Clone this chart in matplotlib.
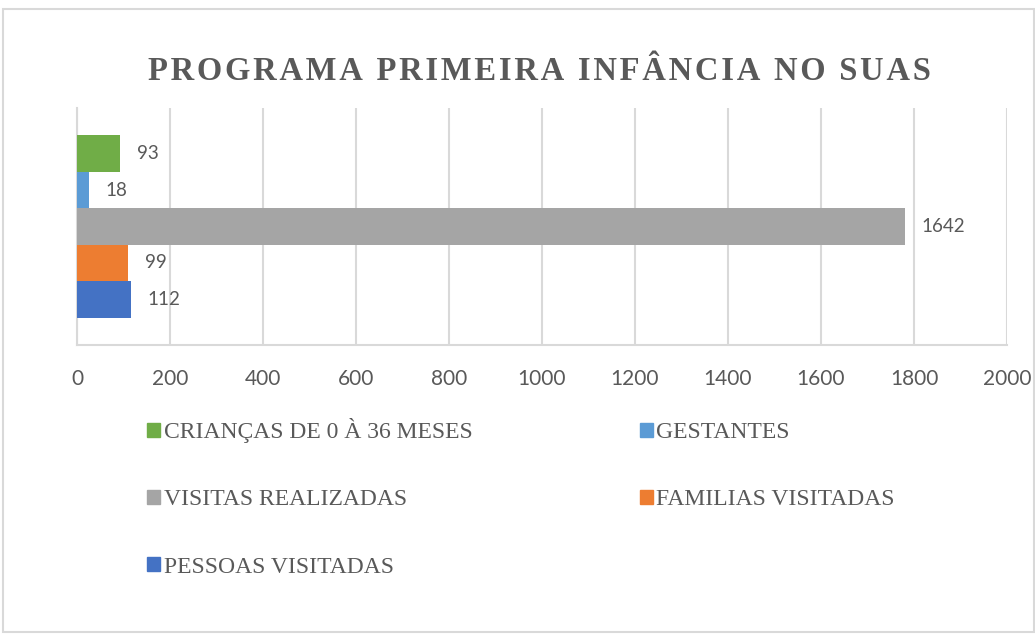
import matplotlib
matplotlib.use("Agg")
from matplotlib import pyplot as plt
from matplotlib.patches import Rectangle

# series (top to bottom as drawn)
series = ["CRIANÇAS DE 0 À 36 MESES", "GESTANTES", "VISITAS REALIZADAS",
          "FAMILIAS VISITADAS", "PESSOAS VISITADAS"]
# bar lengths as they appear on the axis
bar_lengths = [93, 26, 1780, 110, 116]
# data labels printed beside the bars
bar_labels = ["93", "18", "1642", "99", "112"]
colors = ["#70ad47", "#5b9bd5", "#a5a5a5", "#ed7d31", "#4472c4"]
x_ticks = [0, 200, 400, 600, 800, 1000, 1200, 1400, 1600, 1800, 2000]

title = "PROGRAMA PRIMEIRA INFÂNCIA NO SUAS"
text_gray = "#595959"
grid_gray = "#d9d9d9"

fig = plt.figure(figsize=(10.35, 6.35), dpi=100)
ax = fig.add_axes([77 / 1035, 1 - 345 / 635, 930 / 1035, 237 / 635])

positions = list(range(len(series)))[::-1]
bars = ax.barh(positions, bar_lengths, height=1.0, color=colors, zorder=3)
for bar, txt in zip(bars, bar_labels):
    ax.annotate(txt, (bar.get_width(), bar.get_y() + bar.get_height() / 2),
                xytext=(12, 0), textcoords="offset points", va="center", ha="left",
                fontsize=13.5, color=text_gray, family="Lato")

ax.set_xlim(0, 2000)
ax.set_ylim(-1.25, 5.25)
ax.set_xticks(x_ticks)
ax.set_xticklabels([str(t) for t in x_ticks], fontsize=15, color=text_gray, family="Lato")
ax.set_yticks([])
ax.tick_params(axis="x", length=0, pad=17)
ax.grid(axis="x", color=grid_gray, linewidth=1.5, zorder=0)
for side in ["top", "right"]:
    ax.spines[side].set_visible(False)
for side in ["left", "bottom"]:
    ax.spines[side].set_color(grid_gray)
    ax.spines[side].set_linewidth(1.5)

# title with a little letter spacing
fig.text(539 / 1035, 1 - 72 / 635, "\u200a".join(title), ha="center", va="center",
         fontsize=23.5, fontweight="bold", color=text_gray, family="Liberation Serif")

# legend, row-major order across two columns
order = [0, 2, 4, 1, 3]
handles = [Rectangle((0, 0), 1, 1, color=colors[i]) for i in order]
labels = [series[i] for i in order]
fig.legend(handles, labels, loc="upper left", bbox_to_anchor=(147 / 1035, 1 - 418 / 635),
           ncol=2, frameon=False, handlelength=0.55, handleheight=0.55, handletextpad=0.15,
           labelspacing=1.96, columnspacing=7.1, borderaxespad=0, borderpad=0,
           prop={"family": "Liberation Serif", "size": 17}, labelcolor=text_gray)

fig.patches.append(Rectangle((3 / 1035, 0.004), 1 - 4 / 1035, 1 - 9 / 635 - 0.004,
                             transform=fig.transFigure, fill=False,
                             edgecolor=grid_gray, linewidth=1.5))

fig.savefig("out.png", dpi=100)
